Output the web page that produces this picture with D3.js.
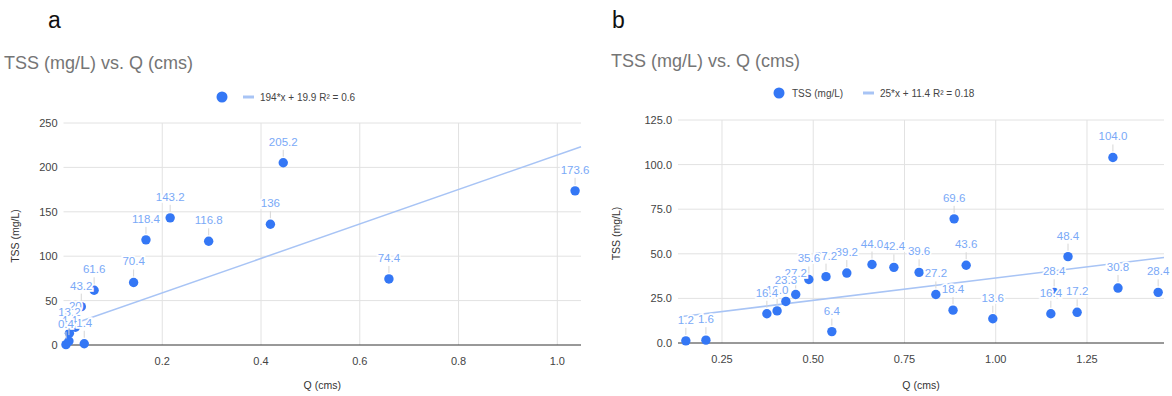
<!DOCTYPE html>
<html>
<head>
<meta charset="utf-8">
<script src="https://cdn.jsdelivr.net/npm/d3@7"></script>
<style>
  body { margin: 0; background: #fff; }
  svg { font-family: "Liberation Sans", Arial, sans-serif; }
</style>
</head>
<body>
<svg id="chart" width="1172" height="396"></svg>
<script>
// panel a data
const qA = [0.005, 0.011, 0.012, 0.024, 0.036, 0.042, 0.062, 0.142, 0.167, 0.216, 0.294, 0.419, 0.445, 0.659, 1.036]
const tssA = [0.4, 4.4, 13.2, 20, 43.2, 1.4, 61.6, 70.4, 118.4, 143.2, 116.8, 136, 205.2, 74.4, 173.6]
const xTicksA = [0.2, 0.4, 0.6, 0.8, 1.0]
const yTicksA = [0, 50, 100, 150, 200, 250]
const trendA = { slope: 194, intercept: 19.9, text: "194*x + 19.9 R² = 0.6" }

// panel b data
const qB = [0.151, 0.206, 0.373, 0.401, 0.425, 0.452, 0.488, 0.535, 0.551, 0.592, 0.661, 0.721, 0.790,
  0.836, 0.886, 0.883, 0.919, 0.992, 1.160, 1.151, 1.198, 1.223, 1.321, 1.335, 1.445]
const tssB = [1.2, 1.6, 16.4, 18.0, 23.3, 27.2, 35.6, 37.2, 6.4, 39.2, 44.0, 42.4, 39.6,
  27.2, 69.6, 18.4, 43.6, 13.6, 28.4, 16.4, 48.4, 17.2, 104.0, 30.8, 28.4]
const xTicksB = [0.25, 0.5, 0.75, 1.0, 1.25]
const yTicksB = [0, 25, 50, 75, 100, 125]
const trendB = { slope: 25, intercept: 11.4, text: "25*x + 11.4 R² = 0.18" }

const dotColor = "#3477f5"
const labelColor = "#7aa9f7"
const trendColor = "#a8c4f5"

const svg = d3.select("#chart")

function panel(opt) {
  const g = svg.append("g")
  const x = d3.scaleLinear().domain(opt.xDomain).range(opt.xRange)
  const y = d3.scaleLinear().domain(opt.yDomain).range(opt.yRange)
  const [x0, x1] = opt.xRange
  const [y0, y1] = opt.yRange

  // panel letter + title
  g.append("text").attr("x", opt.letterX).attr("y", 28)
    .attr("font-size", 23).attr("fill", "#111").text(opt.letter)
  g.append("text").attr("x", opt.titleX).attr("y", opt.titleY)
    .attr("font-size", 18).attr("fill", "#757575").text("TSS (mg/L) vs. Q (cms)")

  // gridlines
  g.selectAll(".hg").data(opt.yTicks.filter(d => d !== 0)).join("line")
    .attr("x1", x0).attr("x2", x1)
    .attr("y1", d => y(d)).attr("y2", d => y(d))
    .attr("stroke", "#e2e2e2")
  g.selectAll(".vg").data(opt.xTicks).join("line")
    .attr("x1", d => x(d)).attr("x2", d => x(d))
    .attr("y1", y1).attr("y2", y0)
    .attr("stroke", "#e2e2e2")
  g.append("line").attr("x1", x0).attr("x2", x1).attr("y1", y(0)).attr("y2", y(0))
    .attr("stroke", "#333").attr("stroke-width", 1)

  // tick labels
  g.selectAll(".yt").data(opt.yTicks).join("text")
    .attr("x", x0 - 6).attr("y", d => y(d) + 4)
    .attr("text-anchor", "end").attr("font-size", 11).attr("fill", "#444")
    .text(opt.yFmt)
  g.selectAll(".xt").data(opt.xTicks).join("text")
    .attr("x", d => x(d)).attr("y", y0 + 20)
    .attr("text-anchor", "middle").attr("font-size", 11).attr("fill", "#444")
    .text(opt.xFmt)

  // axis titles
  g.append("text").attr("transform", `translate(${opt.yLabelX},${(y0 + y1) / 2 + 2}) rotate(-90)`)
    .attr("text-anchor", "middle").attr("font-size", 10.5).attr("fill", "#333").text("TSS (mg/L)")
  g.append("text").attr("x", (x0 + x1) / 2).attr("y", 389)
    .attr("text-anchor", "middle").attr("font-size", 10.5).attr("fill", "#333").text("Q (cms)")

  // trendline over full domain
  const tr = opt.trend
  g.append("line")
    .attr("x1", x(opt.xDomain[0])).attr("y1", y(tr.slope * opt.xDomain[0] + tr.intercept))
    .attr("x2", x(opt.xDomain[1])).attr("y2", y(tr.slope * opt.xDomain[1] + tr.intercept))
    .attr("stroke", trendColor).attr("stroke-width", 1.5)

  const pts = opt.q.map((q, i) => ({ q, v: opt.tss[i] }))

  g.selectAll(".pt").data(pts).join("circle")
    .attr("cx", d => x(d.q)).attr("cy", d => y(d.v)).attr("r", 4.7)
    .attr("fill", dotColor)

  g.selectAll(".ld").data(pts).join("line")
    .attr("x1", d => x(d.q)).attr("x2", d => x(d.q))
    .attr("y1", d => y(d.v) - 13).attr("y2", d => y(d.v) - 6)
    .attr("stroke", "#d6d6d6").attr("stroke-width", 1)

  // draw right-most labels first so left labels sit on top
  const byQ = pts.slice().sort((a, b) => b.q - a.q)
  g.selectAll(".lb").data(byQ).join("text")
    .attr("x", d => x(d.q)).attr("y", d => y(d.v) - 17)
    .attr("text-anchor", "middle").attr("font-size", 11.5).attr("fill", labelColor)
    .attr("stroke", "#fff").attr("stroke-width", 3.5).attr("paint-order", "stroke")
    .text(d => opt.labelFmt(d.v))

  // legend
  const lg = g.append("g").attr("font-size", 10).attr("fill", "#444")
  let lx = opt.legendX
  lg.append("circle").attr("cx", lx).attr("cy", opt.legendY).attr("r", 5.5).attr("fill", dotColor)
  lx += 10
  if (opt.seriesName) {
    lg.append("text").attr("x", lx + 3).attr("y", opt.legendY + 3.5).text(opt.seriesName)
    lx += 74
  } else {
    lx += 11
  }
  lg.append("line").attr("x1", lx).attr("x2", lx + 11).attr("y1", opt.legendY).attr("y2", opt.legendY)
    .attr("stroke", trendColor).attr("stroke-width", 3)
  lg.append("text").attr("x", lx + 17).attr("y", opt.legendY + 3.5).text(tr.text)
}

panel({
  letter: "a", letterX: 48, titleX: 4, titleY: 69,
  q: qA, tss: tssA, trend: trendA,
  xDomain: [0, 1.048], xRange: [63.5, 581],
  yDomain: [0, 250], yRange: [345, 123],
  xTicks: xTicksA, yTicks: yTicksA,
  xFmt: d3.format(".1f"), yFmt: d3.format("d"), labelFmt: d3.format("~f"),
  yLabelX: 19, legendX: 222, legendY: 97, seriesName: null
})

panel({
  letter: "b", letterX: 612, titleX: 611, titleY: 67,
  q: qB, tss: tssB, trend: trendB,
  xDomain: [0.1295, 1.461], xRange: [678, 1164],
  yDomain: [0, 125], yRange: [343, 120],
  xTicks: xTicksB, yTicks: yTicksB,
  xFmt: d3.format(".2f"), yFmt: d3.format(".1f"), labelFmt: d3.format(".1f"),
  yLabelX: 620, legendX: 779, legendY: 93, seriesName: "TSS (mg/L)"
})
</script>
</body>
</html>
